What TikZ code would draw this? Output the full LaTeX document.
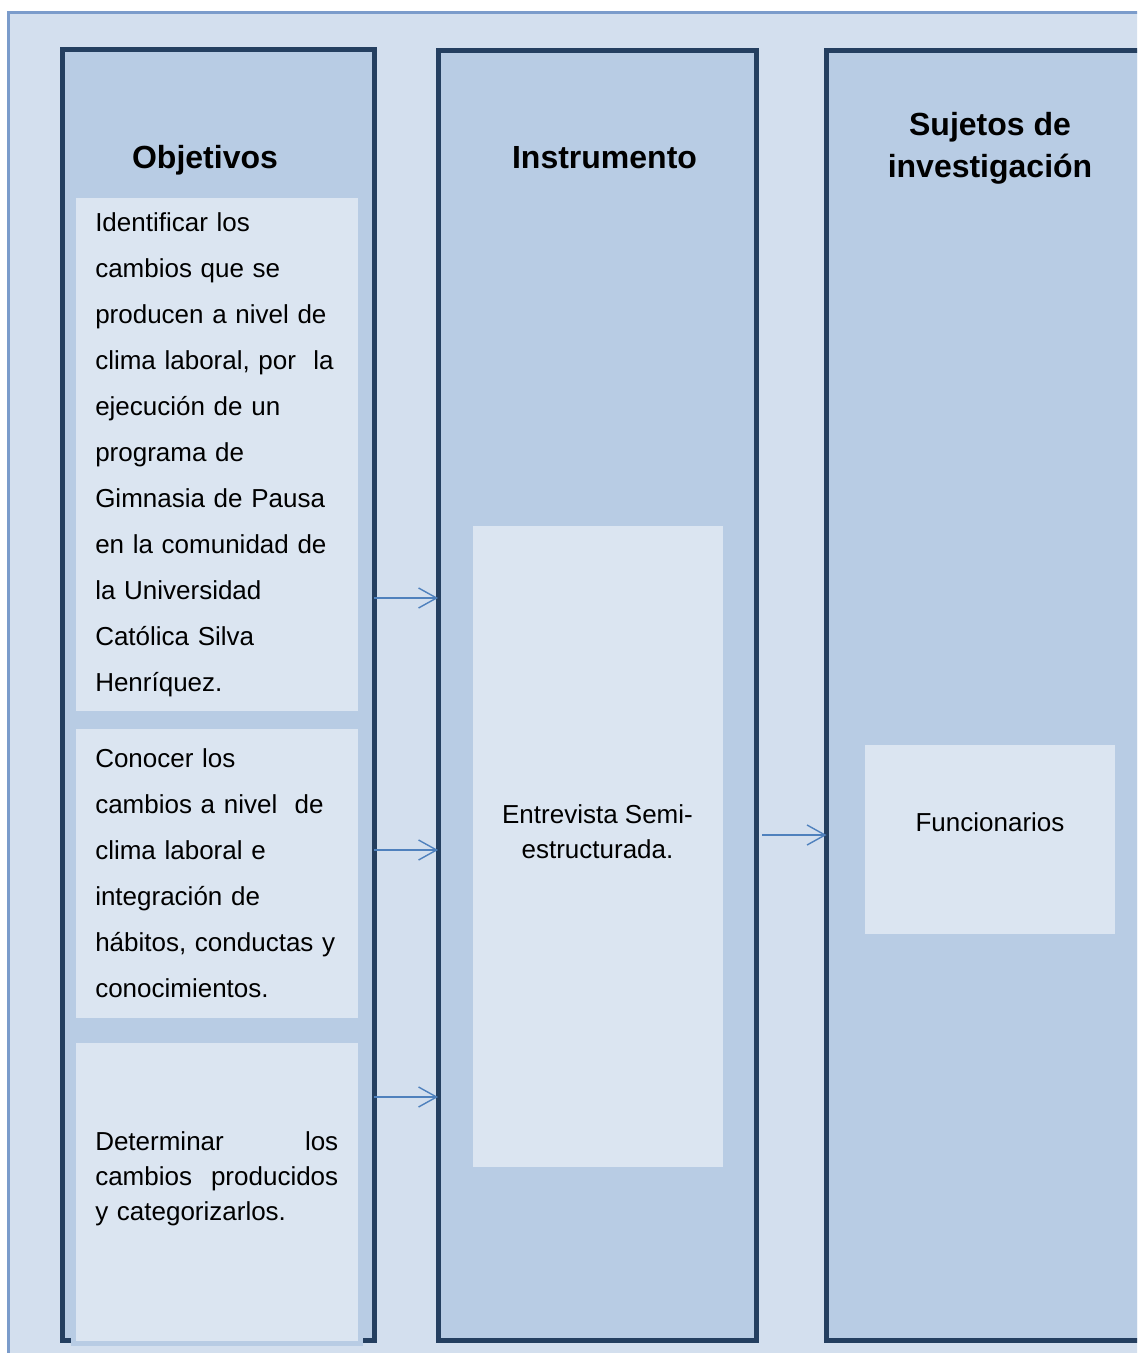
\documentclass[tikz,border=0pt]{standalone}
\usepackage{fontspec}
\setmainfont{Liberation Sans}
\usetikzlibrary{positioning, arrows.meta, calc}
\definecolor{panelbg}{HTML}{D3DFEE}
\definecolor{panelline}{HTML}{7B9CCB}
\definecolor{colfill}{HTML}{B8CCE4}
\definecolor{colline}{HTML}{243F60}
\definecolor{boxfill}{HTML}{DBE5F1}
\definecolor{flowblue}{HTML}{4F81BD}
\newcommand{\justline}[2]{\makebox[121.5pt][l]{#1\hfill#2}}

\begin{document}
\begin{tikzpicture}[
    x=0.5pt, y=-0.5pt,
    colbox/.style={rectangle, draw=colline, fill=colfill, line width=2.5pt,
                   outer sep=0pt, minimum height=644.75pt},
    objbox/.style={rectangle, fill=boxfill, minimum width=140.75pt,
                   text width=121.5pt, inner xsep=9.625pt, align=left,
                   font=\fontsize{13}{23}\selectfont},
    fillbox/.style={rectangle, fill=boxfill},
    heading/.style={font=\fontsize{16}{20.85}\selectfont\bfseries, align=center},
    bodytext/.style={font=\fontsize{13}{17.5}\selectfont, align=center},
    arrow/.style={-{Straight Barb[length=9pt, width=10pt]}, line width=0.7pt, flowblue}
  ]
    \fill[white] (0,0) rectangle (1137,1353);
    \clip (0,0) rectangle (1137,1353);
    \draw[panelline, fill=panelbg, line width=1.4pt] (8.7,12.5) rectangle (1300,1500);

    % three columns
    \node[colbox, minimum width=156pt, minimum height=645.25pt] (objcol) at (218,694.75) {};
    \node[colbox, minimum width=159pt] (instcol) at (597,695.25) {};
    \node[colbox, minimum width=176.75pt] (sujcol) at (1003.25,695.25) {};

    \node[heading, anchor=base] (objhead) at (205,168.3) {Objetivos};
    \node[heading, anchor=base] (insthead) at (604.5,168.3) {Instrumento};
    \node[heading] (sujhead) at (990,148) {Sujetos de\\investigación};

    % objectives
    \node[objbox, minimum height=256.75pt] (obj1) at (216.75,454.5)
      {Identificar los\\cambios que se\\producen a nivel de\\clima laboral, por\ \ la\\ejecución de un\\programa de\\Gimnasia de Pausa\\en la comunidad de\\la Universidad\\Católica Silva\\Henríquez.};
    \node[objbox, minimum height=144.5pt] (obj2) at (216.75,873)
      {Conocer los\\cambios a nivel\ \ de\\clima laboral e\\integración de\\hábitos, conductas y\\conocimientos.};
    \fill[colfill] (70.5,1040) rectangle (363,1346);
    \node[objbox, minimum height=149pt] (obj3) at (216.75,1192) {};
    \node[bodytext, align=left, text width=121.5pt] (obj3text) at (216.75,1178.6)
      {\justline{Determinar}{los}\\\justline{cambios}{producidos}\\y categorizarlos.};

    % instrument and subjects
    \node[fillbox, minimum width=124.75pt, minimum height=320.5pt] (instbox) at (597.75,846.5) {};
    \node[bodytext] (insttext) at (597.5,831.3) {Entrevista Semi-\\estructurada.};
    \node[fillbox, minimum width=125pt, minimum height=94.5pt] (sujbox) at (990,839.5) {};
    \node[bodytext, anchor=base] (sujtext) at (990,831.7) {Funcionarios};

    \coordinate (lvl1) at (0,598);
    \coordinate (lvl2) at (0,850);
    \coordinate (lvl3) at (0,1097);
    \coordinate (lvl4) at (0,835);

    \draw[arrow] (objcol.east |- lvl1) -- (instcol.west |- lvl1);
    \draw[arrow] (objcol.east |- lvl2) -- (instcol.west |- lvl2);
    \draw[arrow] (objcol.east |- lvl3) -- (instcol.west |- lvl3);
    \draw[arrow, shorten <=3pt] (instcol.east |- lvl4) -- (sujcol.west |- lvl4);
  \end{tikzpicture}
\end{document}
